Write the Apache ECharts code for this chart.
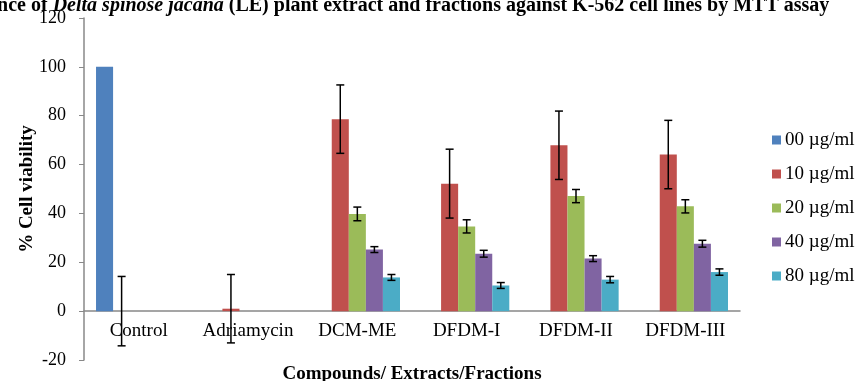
<!DOCTYPE html>
<html><head><meta charset="utf-8">
<script src="https://cdn.jsdelivr.net/npm/echarts@6/dist/echarts.min.js"></script>
<style>html,body{margin:0;padding:0;background:#fff}#c{width:857px;height:381px}</style>
</head><body><div id="c"></div>
<script>
const categories = ['Control', 'Adriamycin', 'DCM-ME', 'DFDM-I', 'DFDM-II', 'DFDM-III'];
const seriesNames = ['00 µg/ml', '10 µg/ml', '20 µg/ml', '40 µg/ml', '80 µg/ml'];
const v00 = [100, null, null, null, null, null];
const v10 = [0, 1, 78.6, 52.2, 67.9, 64.1];
const v20 = [null, null, 39.8, 34.7, 47.1, 42.9];
const v40 = [null, null, 25.2, 23.5, 21.5, 27.6];
const v80 = [null, null, 13.8, 10.5, 12.9, 16.0];
const e00 = [null, null, null, null, null, null];
const e10 = [14.2, 14, 14, 14.1, 14, 14];
const e20 = [null, null, 2.8, 2.7, 2.7, 2.7];
const e40 = [null, null, 1.2, 1.4, 1.2, 1.4];
const e80 = [null, null, 1.2, 1.2, 1.3, 1.3];
const yTicks = {min: -20, max: 120, interval: 20};

const values = [v00, v10, v20, v40, v80];
const errors = [e00, e10, e20, e40, e80];
const colors = ['#4F81BD', '#C0504D', '#9BBB59', '#8064A2', '#4BACC6'];
const GAP = 0.22;
const FONT = '"Liberation Serif", "Times New Roman", serif';

const series = [];
values.forEach((vals, i) => {
  series.push({
    name: seriesNames[i], type: 'bar', data: vals, barGap: '0%', barCategoryGap: (GAP*100)+'%',
    itemStyle: {color: colors[i]}, z: 2
  });
});
errors.forEach((errs, i) => {
  const data = [];
  errs.forEach((e, j) => { if (e != null && values[i][j] != null) data.push([j, values[i][j], e]); });
  series.push({
    type: 'custom', name: seriesNames[i] + ' err', z: 5, silent: true,
    data: data,
    renderItem: function (params, api) {
      const j = api.value(0), v = api.value(1), e = api.value(2);
      const c = api.coord([j, v]);
      const band = api.size([1, 0])[0];
      const bw = band * (1 - GAP) / values.length;
      const x = c[0] + (i - (values.length - 1) / 2) * bw;
      const yt = api.coord([j, v + e])[1];
      const yb = api.coord([j, v - e])[1];
      const cap = 4;
      const st = {stroke: '#000', lineWidth: 1.5};
      return {type: 'group', children: [
        {type: 'line', shape: {x1: x, y1: yt, x2: x, y2: yb}, style: st},
        {type: 'line', shape: {x1: x - cap, y1: yt, x2: x + cap, y2: yt}, style: st},
        {type: 'line', shape: {x1: x - cap, y1: yb, x2: x + cap, y2: yb}, style: st}
      ]};
    }
  });
});

const chart = echarts.init(document.getElementById('c'));
chart.setOption({
  animation: false,
  backgroundColor: '#fff',
  title: {
    text: 'Influence of {i|Delta spinose jacana} (LE) plant extract and fractions against K-562 cell lines by MTT assay',
    left: -59, top: -9,
    textStyle: {fontFamily: FONT, fontSize: 20, fontWeight: 'bold', color: '#000',
      rich: {i: {fontFamily: FONT, fontSize: 20, fontWeight: 'bold', fontStyle: 'italic', color: '#000'}}}
  },
  legend: {
    orient: 'vertical', left: 767, top: 124, itemWidth: 9, itemHeight: 9, itemGap: 12,
    icon: 'rect', data: seriesNames,
    textStyle: {fontFamily: FONT, fontSize: 19, color: '#000', lineHeight: 22, padding: [0,0,0,-1]}
  },
  grid: {left: 84, right: 117, top: 18, bottom: 21, containLabel: false, outerBoundsMode: 'none'},
  xAxis: {
    type: 'category', data: categories,
    axisLine: {onZero: true, lineStyle: {color: '#888', width: 1.5}},
    axisTick: {show: false},
    axisLabel: {fontFamily: FONT, fontSize: 19, color: '#000', margin: -38, interval: 0, hideOverlap: false},
    name: 'Compounds/ Extracts/Fractions', nameLocation: 'middle', nameGap: 5,
    nameTextStyle: {fontFamily: FONT, fontSize: 19, fontWeight: 'bold', color: '#000'}
  },
  yAxis: {
    type: 'value', min: yTicks.min, max: yTicks.max, interval: yTicks.interval,
    splitLine: {show: false},
    axisLine: {show: true, lineStyle: {color: '#888', width: 1.5}},
    axisTick: {show: true, length: 5, lineStyle: {color: '#888'}},
    axisLabel: {fontFamily: FONT, fontSize: 18, color: '#000', margin: 18},
    name: '% Cell viability', nameLocation: 'middle', nameGap: 47, nameRotate: 90, nameMoveOverlap: false,
    nameTextStyle: {fontFamily: FONT, fontSize: 19, fontWeight: 'bold', color: '#000'}
  },
  series: series
});
</script></body></html>
